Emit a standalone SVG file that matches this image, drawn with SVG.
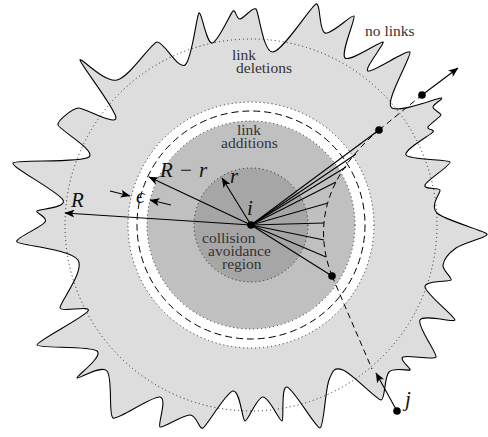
<svg xmlns="http://www.w3.org/2000/svg" width="488" height="437" viewBox="0 0 488 437">
<defs>
<style>
.dotc{fill:none;stroke:#222;stroke-width:1;stroke-dasharray:1 3;}
.lbl{font-family:"Liberation Serif","Times New Roman",serif;font-size:15.5px;fill:#333;}
.math{font-family:"Liberation Serif","DejaVu Serif",serif;font-style:italic;font-size:21px;fill:#111;}
.ln{stroke:#000;stroke-width:1.1;fill:none;}
.dash{stroke:#000;stroke-width:1;fill:none;stroke-dasharray:6 4;}
.pt{fill:#000;}
</style>
<marker id="ah" viewBox="0 0 10 8" refX="9.5" refY="4" markerWidth="11" markerHeight="8" markerUnits="userSpaceOnUse" orient="auto"><path d="M0,0 L10,4 L0,8 L2.5,4 z" fill="#000"/></marker>
</defs>

<g id="regions">
<path id="outline" fill="#dddddd" stroke="#000" stroke-width="1.1" d="M13,163 C15.4,159.1 81.5,163.3 89,157 S59,129.5 58,125 S72.7,108.7 78,108 S115.7,126 116,118 S79.9,63.5 80,60 S104.2,83 117,80 S150.8,43.4 157,42 S178,69.8 185,65 S196.5,15 199,13 S206.3,43.3 212,43 S230.4,13.2 233,11 S236.2,19.3 240,19 S253,6 256,9 S263,52.8 273,52 S311.2,5.8 316,4 S318.7,31 325,33 S352.2,13.7 354,16 S340.2,53.7 345,58 S380.9,40.8 383,42 S363.5,69.3 368,71 S407.9,48.7 410,52 S385.8,99.3 391,107 S437.1,98 441,98 S433,104.2 433,107 S441.4,113.2 441,115 S429.3,124.2 428,127 S435,129.4 433,132 S403.2,150 406,155 S448.2,159.3 450,162 S426.7,180.3 425,185 S438.9,187.4 440,190 S429.2,205.7 437,213 S485.4,231 487,234 S463.3,242.8 456,248 S443.8,259.7 443,265 S452.7,278 451,280 S424.3,280.3 425,287 S455.4,317 455,320 S423.2,313.8 420,320 S437.5,353.6 436,357 S407.3,354.8 403,357 S411.4,369 410,370 S393.8,367 389,372 S385.2,400.2 381,400 S351.7,373.3 343,370 S332.8,370.3 329,380 S323.9,427.3 320,428 S293.3,388.2 287,387 S284.2,420.1 282,421 S269.2,397 263,397 S247.8,421.6 245,421 S240,389.8 233,391 S207,425.8 203,428 S197.2,415.2 190,415 S162.8,428.7 160,427 S167.8,398.5 160,397 S117.8,420.4 113,418 S113,377.7 107,371 S77.9,379.8 77,378 S103.7,356.5 97,351 S37.8,348.7 37,345 S84.2,317.2 88,311 S60.9,312.7 60,308 S85.2,271 78,260 S20,245.5 17,242 S41.7,227.2 45,222 S35.35,213 37,211 S67,208 63,200 S10.6,166.9 13,163 Z"/>
<circle id="R-circle" class="dotc" cx="251" cy="225" r="186"/>
<circle id="gap-ring" cx="251" cy="225" r="123" fill="#fff" stroke="#222" stroke-width="1" stroke-dasharray="1 3"/>
<circle id="Rr-circle" cx="251" cy="225" r="114" fill="none" stroke="#000" stroke-width="1" stroke-dasharray="7 4"/>
<circle id="additions" cx="251" cy="225" r="104" fill="#c0c0c0" stroke="#222" stroke-width="1" stroke-dasharray="1 3"/>
<circle id="collision" cx="251" cy="225" r="57" fill="#a6a6a6" stroke="#222" stroke-width="1" stroke-dasharray="1 3"/>
</g>

<g id="labels">
<text class="lbl" x="365" y="36">no links</text>
<text class="lbl" x="232" y="60">link</text>
<text class="lbl" x="236" y="73">deletions</text>
<text class="lbl" x="237" y="135">link</text>
<text class="lbl" x="221" y="148">additions</text>
<text class="lbl" x="202" y="242.5">collision</text>
<text class="lbl" x="208" y="256">avoidance</text>
<text class="lbl" x="222" y="269">region</text>
<text class="math" x="71" y="207">R</text>
<text class="math" y="177"><tspan x="160">R</tspan><tspan x="180" font-style="normal">−</tspan><tspan x="199">r</tspan></text>
<text class="math" x="230" y="183">r</text>
<text class="math" x="247" y="215">i</text>
<text class="math" x="136" y="203">ϵ</text>
<text class="math" x="405" y="406">j</text>
</g>

<g id="connectors">
<line class="ln" x1="251" y1="225" x2="65" y2="213" marker-end="url(#ah)"/>
<line class="ln" x1="251" y1="225" x2="149" y2="177" marker-end="url(#ah)"/>
<line class="ln" x1="251" y1="225" x2="222" y2="178" marker-end="url(#ah)"/>
<line class="ln" x1="110" y1="191" x2="130" y2="196" marker-end="url(#ah)"/>
<line class="ln" x1="171" y1="205" x2="150" y2="200" marker-end="url(#ah)"/>
<path class="dash" d="M332,276 C318,240 314,185 379,130"/>
<line class="dash" x1="379" y1="130" x2="422" y2="95"/>
<line class="dash" x1="332" y1="276" x2="372" y2="369"/>
<g class="ln">
<line x1="251" y1="225" x2="379" y2="130"/>
<line x1="251" y1="225" x2="356" y2="154"/>
<line x1="251" y1="225" x2="346" y2="167"/>
<line x1="251" y1="225" x2="336" y2="182"/>
<line x1="251" y1="225" x2="328" y2="203"/>
<line x1="251" y1="225" x2="324" y2="223"/>
<line x1="251" y1="225" x2="324" y2="240"/>
<line x1="251" y1="225" x2="326" y2="257"/>
<line x1="251" y1="225" x2="332" y2="276"/>
</g>
<line class="ln" x1="422" y1="95" x2="458" y2="68" marker-end="url(#ah)"/>
<line class="ln" x1="397" y1="411" x2="376" y2="373" marker-end="url(#ah)"/>
</g>

<g id="points">
<circle id="node-i" class="pt" cx="251" cy="225" r="3.8"/>
<circle class="pt" cx="379" cy="130" r="3.8"/>
<circle class="pt" cx="422" cy="95" r="3.8"/>
<circle class="pt" cx="332" cy="276" r="3.8"/>
<circle id="node-j" class="pt" cx="397" cy="411" r="3.8"/>
</g>
</svg>
